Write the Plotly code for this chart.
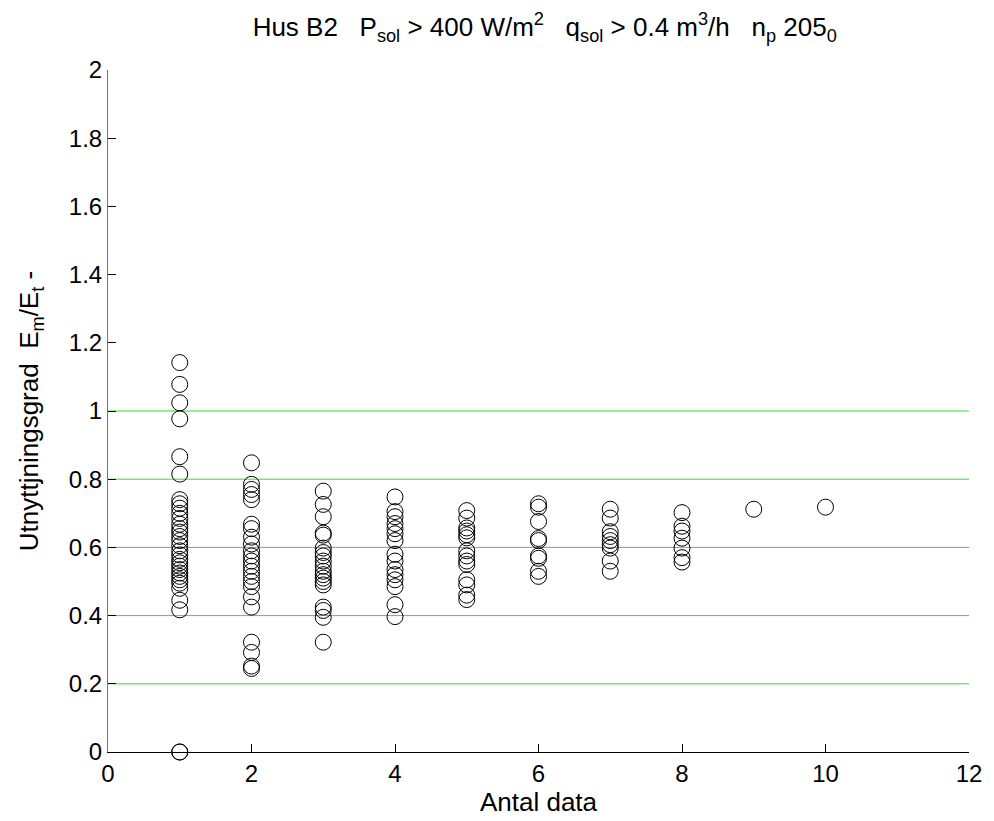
import plotly.graph_objects as go

col1 = [1.142, 1.078, 1.024, 0.977, 0.866, 0.815, 0.740, 0.728, 0.715, 0.700, 0.685,
        0.668, 0.655, 0.645, 0.632, 0.620, 0.605, 0.590, 0.578, 0.565, 0.555, 0.545,
        0.535, 0.525, 0.515, 0.505, 0.495, 0.480, 0.445, 0.417, 0.0, 0.0]
col2 = [0.848, 0.785, 0.770, 0.755, 0.740, 0.668, 0.655, 0.630, 0.610, 0.590, 0.575,
        0.560, 0.545, 0.530, 0.515, 0.500, 0.485, 0.455, 0.425, 0.322, 0.292, 0.252, 0.245]
col3 = [0.765, 0.726, 0.690, 0.642, 0.636, 0.598, 0.585, 0.575, 0.560, 0.545, 0.530,
        0.520, 0.510, 0.500, 0.490, 0.425, 0.415, 0.395, 0.322]
col4 = [0.748, 0.705, 0.690, 0.670, 0.655, 0.640, 0.620, 0.580, 0.560, 0.535, 0.520,
        0.505, 0.485, 0.432, 0.397]
col5 = [0.708, 0.686, 0.657, 0.648, 0.637, 0.628, 0.590, 0.575, 0.560, 0.550, 0.505,
        0.490, 0.460, 0.447]
col6 = [0.728, 0.718, 0.676, 0.626, 0.620, 0.575, 0.568, 0.530, 0.515]
col7 = [0.712, 0.686, 0.646, 0.632, 0.620, 0.608, 0.598, 0.560, 0.530]
col8 = [0.702, 0.662, 0.648, 0.627, 0.598, 0.570, 0.557]
col9 = [0.712]
col10 = [0.718]

columns = [col1, col2, col3, col4, col5, col6, col7, col8, col9, col10]
antal = list(range(1, 11))

ref_levels = [0.2, 0.4, 0.6, 0.8, 1.0]

xs, ys = [], []
for n, vals in zip(antal, columns):
    xs += [n] * len(vals)
    ys += vals

fig = go.Figure()
for lv in ref_levels:
    fig.add_trace(go.Scatter(x=[0, 12], y=[lv, lv], mode="lines",
                             line=dict(color="#33dd33", width=1),
                             hoverinfo="skip", showlegend=False))
fig.add_trace(go.Scatter(x=xs, y=ys, mode="markers", showlegend=False,
                         marker=dict(symbol="circle-open", size=16, color="black",
                                     line=dict(width=1, color="black")),
                         cliponaxis=False))

font = dict(family="Liberation Sans, Arial, sans-serif", size=24, color="black")
lfont = dict(family="Liberation Sans, Arial, sans-serif", size=26, color="black")
fig.update_layout(
    width=994, height=821,
    margin=dict(l=108, r=18, t=70, b=69),
    paper_bgcolor="white", plot_bgcolor="white",
    font=font,
    title=dict(text="Hus B2   P<sub>sol</sub> > 400 W/m<sup>2</sup>   q<sub>sol</sub> > 0.4 m<sup>3</sup>/h   n<sub>p</sub> 205<sub>0</sub>",
               x=0.548, xanchor="center", y=0.978, yanchor="top", font=lfont),
    xaxis=dict(range=[0, 12], tickvals=list(range(0, 13, 2)), showgrid=False,
               zeroline=False, showline=True, linecolor="black", linewidth=1,
               ticks="inside", ticklen=8, tickcolor="black",
               title=dict(text="Antal data", font=lfont, standoff=2)),
    yaxis=dict(range=[0, 2], tickvals=[0, 0.2, 0.4, 0.6, 0.8, 1, 1.2, 1.4, 1.6, 1.8, 2],
               ticktext=["0", "0.2", "0.4", "0.6", "0.8", "1", "1.2", "1.4", "1.6", "1.8", "2"],
               showgrid=False, zeroline=False, showline=True, linecolor="#777777",
               linewidth=1, ticks="inside", ticklen=8, tickcolor="black",
               title=dict(text="Utnyttjningsgrad  E<sub>m</sub>/E<sub>t</sub> -", font=lfont, standoff=22)),
)
fig.write_html("out.html")
